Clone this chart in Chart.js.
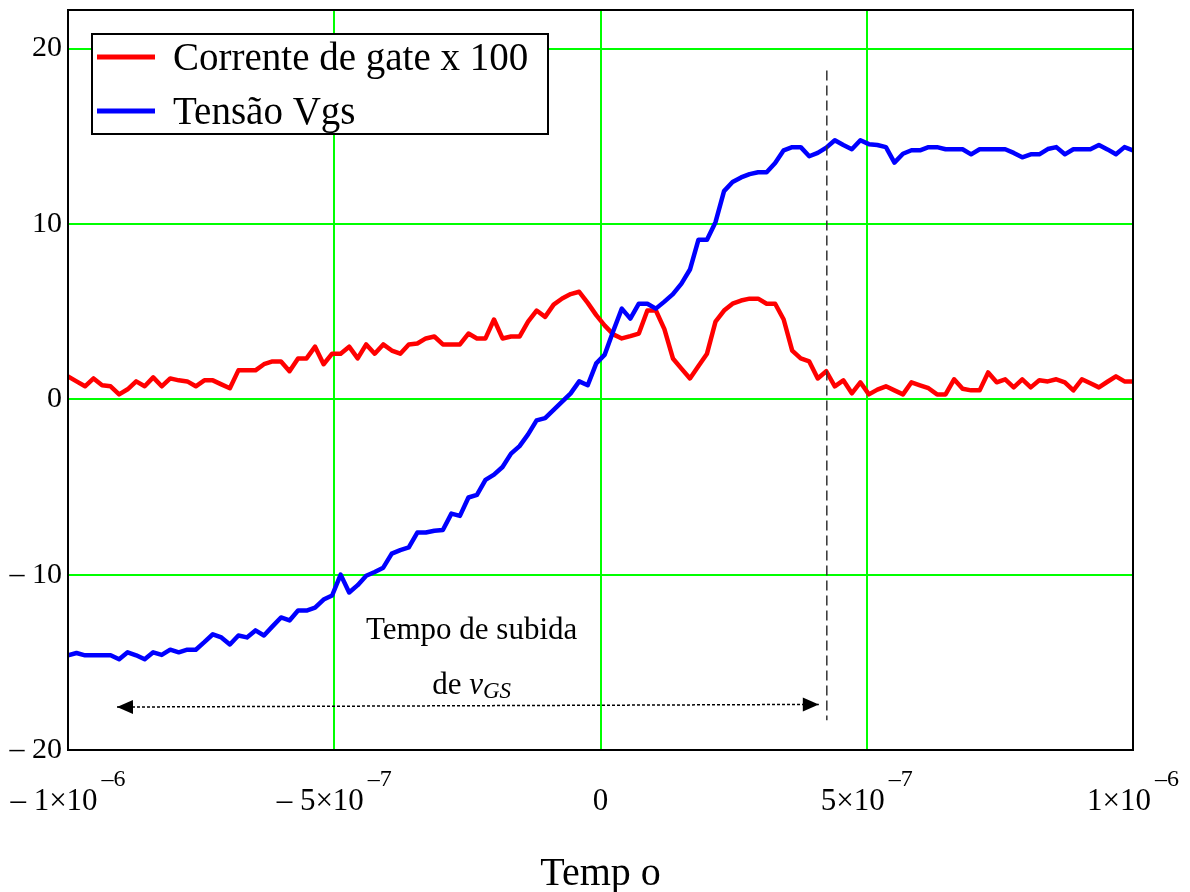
<!DOCTYPE html>
<html lang="pt">
<head>
<meta charset="utf-8">
<title>Corrente de gate e tensão Vgs</title>
<script src="https://cdn.jsdelivr.net/npm/chart.js@4.4.1/dist/chart.umd.min.js"></script>
<style>
  html, body { margin: 0; padding: 0; background: #fff; }
  canvas { display: block; }
</style>
</head>
<body>
<canvas id="gateChart" width="1190" height="892"></canvas>
<script>
// scope capture: one sample every 16 ns, from -1 us to +1 us
const T_START = -1e-6;
const T_STEP = 1.6e-8;

// gate current, scaled x 100
const gateCurrent = [
  1.3, 1.02, 0.74, 1.19, 0.8, 0.74, 0.28, 0.57, 1.02, 0.74,
  1.25, 0.74, 1.19, 1.08, 1.02, 0.74, 1.08, 1.08, 0.85, 0.63,
  1.65, 1.65, 1.65, 2.0, 2.16, 2.16, 1.6, 2.33, 2.33, 3.0,
  2.0, 2.6, 2.6, 3.0, 2.33, 3.13, 2.6, 3.13, 2.78, 2.6,
  3.13, 3.18, 3.47, 3.58, 3.13, 3.13, 3.13, 3.75, 3.47, 3.47,
  4.55, 3.47, 3.58, 3.58, 4.43, 5.06, 4.7, 5.4, 5.75, 6.0,
  6.13, 5.5, 4.8, 4.2, 3.7, 3.47, 3.6, 3.75, 5.06, 5.06,
  4.0, 2.33, 1.75, 1.19, 1.9, 2.6, 4.43, 5.06, 5.45, 5.63,
  5.74, 5.74, 5.45, 5.45, 4.55, 2.78, 2.33, 2.16, 1.19, 1.6,
  0.74, 1.08, 0.34, 0.97, 0.28, 0.55, 0.74, 0.51, 0.28, 0.97,
  0.8, 0.63, 0.28, 0.28, 1.14, 0.6, 0.51, 0.51, 1.53, 0.97,
  1.14, 0.68, 1.14, 0.68, 1.08, 1.02, 1.14, 0.97, 0.51, 1.14,
  0.91, 0.68, 1.0, 1.31, 1.02, 1.02
];

// gate-source voltage
const vgs = [
  -14.6, -14.47, -14.6, -14.6, -14.6, -14.6, -14.83, -14.43, -14.6, -14.83,
  -14.43, -14.58, -14.28, -14.43, -14.28, -14.28, -13.85, -13.4, -13.58, -13.98,
  -13.47, -13.58, -13.18, -13.47, -12.95, -12.44, -12.61, -12.05, -12.05, -11.88,
  -11.42, -11.19, -10.0, -11.02, -10.6, -10.06, -9.85, -9.6, -8.8, -8.6,
  -8.45, -7.6, -7.6, -7.5, -7.45, -6.52, -6.65, -5.6, -5.45, -4.6,
  -4.3, -3.86, -3.1, -2.67, -2.0, -1.2, -1.07, -0.6, -0.13, 0.34,
  1.02, 0.8, 2.05, 2.55, 3.9, 5.17, 4.6, 5.45, 5.45, 5.17,
  5.57, 6.0, 6.6, 7.4, 9.1, 9.1, 10.1, 11.87, 12.39, 12.65,
  12.84, 12.95, 12.95, 13.47, 14.2, 14.38, 14.38, 13.86, 14.05, 14.35,
  14.77, 14.5, 14.26, 14.77, 14.55, 14.5, 14.38, 13.5, 14.0, 14.2,
  14.2, 14.38, 14.38, 14.26, 14.26, 14.26, 13.97, 14.26, 14.26, 14.26,
  14.26, 14.05, 13.8, 13.97, 13.97, 14.27, 14.38, 13.97, 14.26, 14.26,
  14.26, 14.5, 14.25, 13.97, 14.38, 14.2
];

const time = vgs.map((_, i) => T_START + i * T_STEP);

const seriesLabels = ['Corrente de gate x 100', 'Tensão Vgs'];
const xTicks = [-1e-6, -5e-7, 0, 5e-7, 1e-6];
const xTickLabels = [['– 1×10', '–6'], ['– 5×10', '–7'], ['0', ''], ['5×10', '–7'], ['1×10', '–6']];
const yTicks = [-20, -10, 0, 10, 20];

// end of the rise: dashed marker and the arrow that spans the rise time
const riseEnd = 4.25e-7;
const markerSpan = [18.75, -18.3];
const arrowTimes = [-9.08e-7, 4.1e-7];
const arrowLevels = [-17.55, -17.4];

const SERIF = '"Liberation Serif", "Times New Roman", serif';

const decorations = {
  id: 'decorations',
  afterDraw(chart) {
    const { ctx, chartArea: a, scales: { x, y } } = chart;
    ctx.save();

    // plot frame
    ctx.strokeStyle = '#000';
    ctx.lineWidth = 2;
    ctx.strokeRect(a.left, a.top, a.right - a.left, a.bottom - a.top);

    // arrowheads on both ends of the rise-time arrow
    const x0 = x.getPixelForValue(arrowTimes[0]), y0 = y.getPixelForValue(arrowLevels[0]);
    const x1 = x.getPixelForValue(arrowTimes[1]), y1 = y.getPixelForValue(arrowLevels[1]);
    const ang = Math.atan2(y1 - y0, x1 - x0);
    const head = (px, py, dir) => {
      const len = 16, half = 7;
      const bx = px - Math.cos(dir) * len, by = py - Math.sin(dir) * len;
      ctx.beginPath();
      ctx.moveTo(px, py);
      ctx.lineTo(bx - Math.sin(dir) * half, by + Math.cos(dir) * half);
      ctx.lineTo(bx + Math.sin(dir) * half, by - Math.cos(dir) * half);
      ctx.closePath();
      ctx.fillStyle = '#000';
      ctx.fill();
    };
    head(x1, y1, ang);
    head(x0, y0, ang + Math.PI);

    // x tick labels, written as mantissa x 10 with a raised exponent
    ctx.fillStyle = '#000';
    ctx.textBaseline = 'alphabetic';
    ctx.textAlign = 'left';
    xTicks.forEach((v, i) => {
      const [base, exp] = xTickLabels[i];
      ctx.font = '31px ' + SERIF;
      const wb = ctx.measureText(base).width;
      ctx.font = '24px ' + SERIF;
      const we = exp ? ctx.measureText(exp).width + 4 : 0;
      const left = x.getPixelForValue(v) - (wb + we) / 2;
      ctx.font = '31px ' + SERIF;
      ctx.fillText(base, left, a.bottom + 60);
      if (exp) {
        ctx.font = '24px ' + SERIF;
        ctx.fillText(exp, left + wb + 4, a.bottom + 36);
      }
    });

    // axis title
    ctx.font = '40px ' + SERIF;
    ctx.textAlign = 'center';
    ctx.fillText('Temp o', (a.left + a.right) / 2, a.bottom + 135);

    // rise time caption
    const cx = x.getPixelForValue(-2.42e-7);
    ctx.font = '31px ' + SERIF;
    ctx.fillText('Tempo de subida', cx, y.getPixelForValue(-13.65));
    const by2 = y.getPixelForValue(-16.8);
    ctx.textAlign = 'left';
    ctx.font = '31px ' + SERIF;
    const wDe = ctx.measureText('de ').width;
    ctx.font = 'italic 31px ' + SERIF;
    const wV = ctx.measureText('v').width;
    ctx.font = 'italic 23px ' + SERIF;
    const wGS = ctx.measureText('GS').width;
    let tx = cx - (wDe + wV + wGS) / 2;
    ctx.font = '31px ' + SERIF;
    ctx.fillText('de ', tx, by2);
    tx += wDe;
    ctx.font = 'italic 31px ' + SERIF;
    ctx.fillText('v', tx, by2);
    tx += wV;
    ctx.font = 'italic 23px ' + SERIF;
    ctx.fillText('GS', tx, by2 + 4);

    // legend box
    const lx = a.left + 24, ly = a.top + 24;
    ctx.fillStyle = '#fff';
    ctx.fillRect(lx, ly, 456, 100);
    ctx.strokeStyle = '#000';
    ctx.lineWidth = 2;
    ctx.strokeRect(lx, ly, 456, 100);
    const shown = chart.data.datasets.filter(d => d.inLegend);
    shown.forEach((d, i) => {
      const rowY = ly + 23 + i * 54;
      ctx.strokeStyle = d.borderColor;
      ctx.lineWidth = 5;
      ctx.beginPath();
      ctx.moveTo(lx + 5, rowY);
      ctx.lineTo(lx + 63, rowY);
      ctx.stroke();
      ctx.fillStyle = '#000';
      ctx.font = '39px ' + SERIF;
      ctx.fillText(d.label, lx + 81, rowY + 13);
    });

    ctx.restore();
  }
};

new Chart(document.getElementById('gateChart'), {
  type: 'line',
  data: {
    datasets: [
      {
        label: seriesLabels[0],
        inLegend: true,
        data: time.map((t, i) => ({ x: t, y: gateCurrent[i] })),
        borderColor: '#ff0000',
        borderWidth: 4.5,
        pointRadius: 0,
        borderJoinStyle: 'round',
        order: 2
      },
      {
        label: seriesLabels[1],
        inLegend: true,
        data: time.map((t, i) => ({ x: t, y: vgs[i] })),
        borderColor: '#0000ff',
        borderWidth: 4.5,
        pointRadius: 0,
        borderJoinStyle: 'round',
        order: 1
      },
      {
        label: 'marcador',
        data: markerSpan.map(v => ({ x: riseEnd, y: v })),
        borderColor: '#333',
        borderWidth: 1.5,
        borderDash: [10, 5],
        pointRadius: 0,
        order: 0
      },
      {
        label: 'seta',
        data: arrowTimes.map((t, i) => ({ x: t, y: arrowLevels[i] })),
        borderColor: '#000',
        borderWidth: 1.5,
        borderDash: [3, 2],
        pointRadius: 0,
        order: 0
      }
    ]
  },
  options: {
    responsive: false,
    animation: false,
    devicePixelRatio: 1,
    layout: { padding: { top: 10, right: 57, left: 0, bottom: 0 } },
    plugins: {
      legend: { display: false },
      tooltip: { enabled: false }
    },
    scales: {
      x: {
        type: 'linear',
        min: -1e-6,
        max: 1e-6,
        afterBuildTicks: axis => { axis.ticks = xTicks.map(v => ({ value: v })); },
        afterFit: axis => {
          axis.height = 142;
          axis.paddingLeft = 0;
          axis.paddingRight = 0;
        },
        ticks: { display: false },
        grid: { color: '#00ff00', lineWidth: 2, drawTicks: false },
        border: { display: false }
      },
      y: {
        type: 'linear',
        min: -20,
        max: 22.2,
        afterBuildTicks: axis => { axis.ticks = yTicks.map(v => ({ value: v })); },
        afterFit: axis => {
          axis.width = 68;
          axis.paddingTop = 0;
          axis.paddingBottom = 0;
        },
        ticks: {
          color: '#000',
          padding: 6,
          font: { family: SERIF, size: 30 },
          callback: v => (v < 0 ? '– ' + Math.abs(v) : String(v))
        },
        grid: { color: '#00ff00', lineWidth: 2, drawTicks: false },
        border: { display: false }
      }
    }
  },
  plugins: [decorations]
});
</script>
</body>
</html>
